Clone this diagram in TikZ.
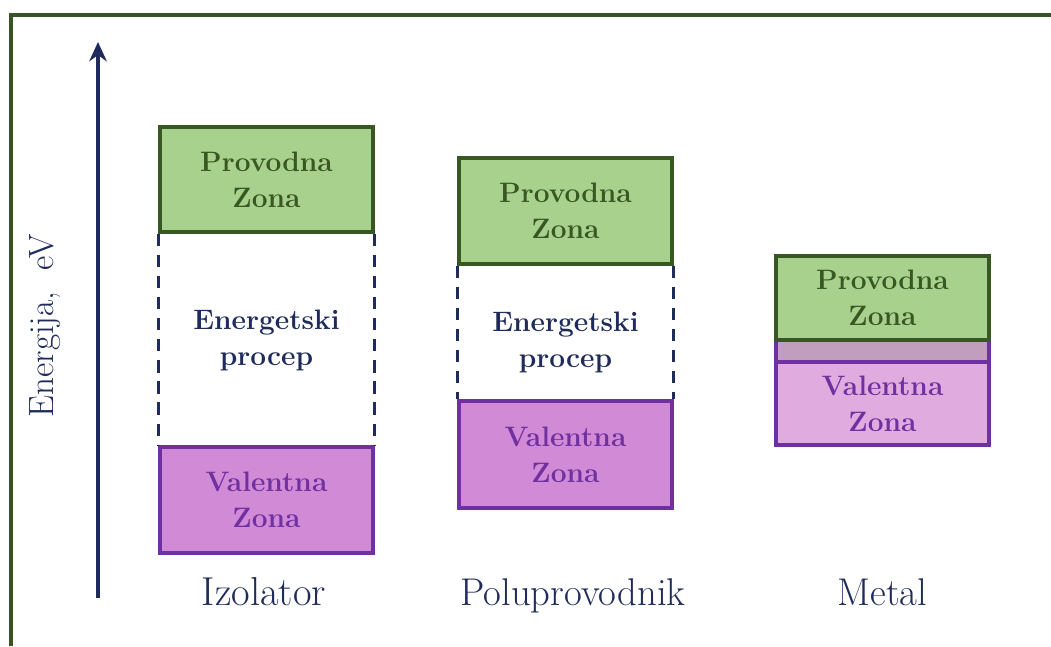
\documentclass[tikz,border=0pt]{standalone}
\usepackage{tikz}
\usetikzlibrary{arrows.meta, positioning}
\definecolor{framegreen}{RGB}{58, 83, 35}
\definecolor{cbfill}{RGB}{169, 209, 142}
\definecolor{cbdraw}{RGB}{56, 87, 35}
\definecolor{vbfill}{RGB}{208, 138, 214}
\definecolor{vblight}{RGB}{224, 172, 224}
\definecolor{vbdraw}{RGB}{112, 48, 160}
\definecolor{overlap}{RGB}{194, 158, 190}
\definecolor{navy}{RGB}{31, 43, 90}

\begin{document}
\begin{tikzpicture}[
    x=0.02cm, y=-0.02cm,
    zone/.style={rectangle, line width=2pt, minimum width=4.26cm, inner sep=0pt,
                 align=center, font=\fontsize{16}{20.5}\selectfont\bfseries},
    cb/.style={zone, fill=cbfill, draw=cbdraw, text=cbdraw},
    vb/.style={zone, fill=vbfill, draw=vbdraw, text=vbdraw},
    gap/.style={navy, line width=1.5pt, dash pattern=on 7pt off 5pt},
    gaptext/.style={align=center, text=navy, font=\fontsize{16}{20.5}\selectfont\bfseries},
    material/.style={anchor=base, text=navy, font=\fontsize{22}{26}\selectfont}
]

\useasboundingbox (0,0) rectangle (1051,646);

% Frame
\draw[framegreen, line width=2pt] (11,646) -- (11,15) -- (1051,15);

% Energy axis
\coordinate (axisBot) at (98,598);
\coordinate (axisTop) at (98,42);
\draw[navy, line width=2pt, -{Stealth[length=11pt, width=10pt]}] (axisBot) -- (axisTop);
\node[rotate=90, text=navy, font=\fontsize{20}{24}\selectfont] (axisLabel) at (45,326) {Energija,\ \ eV};

% Izolator
\node[cb, minimum height=2.1cm] (izCB) at (266.5,179.5) {Provodna\\Zona};
\node[vb, minimum height=2.12cm] (izVB) at (266.5,500) {Valentna\\Zona};
\draw[gap] (izCB.south west) -- (izVB.north west);
\draw[gap] (izCB.south east) -- (izVB.north east);
\node[gaptext] (izGap) at (266.5,340) {Energetski\\procep};
\node[material, font=\fontsize{23}{27}\selectfont] (izName) at (264,605) {Izolator};

% Poluprovodnik
\node[cb, minimum height=2.12cm] (ppCB) at (565.5,211) {Provodna\\Zona};
\node[vb, minimum height=2.14cm] (ppVB) at (565.5,454.5) {Valentna\\Zona};
\draw[gap] (ppCB.south west) -- (ppVB.north west);
\draw[gap] (ppCB.south east) -- (ppVB.north east);
\node[gaptext] (ppGap) at (565.5,342) {Energetski\\procep};
\node[material] (ppName) at (573,605) {Poluprovodnik};

% Metal
\node[zone, fill=overlap, draw=vbdraw, minimum height=0.44cm] (metOv) at (882.5,351) {};
\node[vb, fill=vblight, minimum height=1.66cm] (metVB) at (882.5,403.5) {Valentna\\Zona};
\node[cb, minimum height=1.68cm] (metCB) at (882.5,298) {Provodna\\Zona};
\node[material] (metName) at (882.5,605) {Metal};

\end{tikzpicture}
\end{document}
